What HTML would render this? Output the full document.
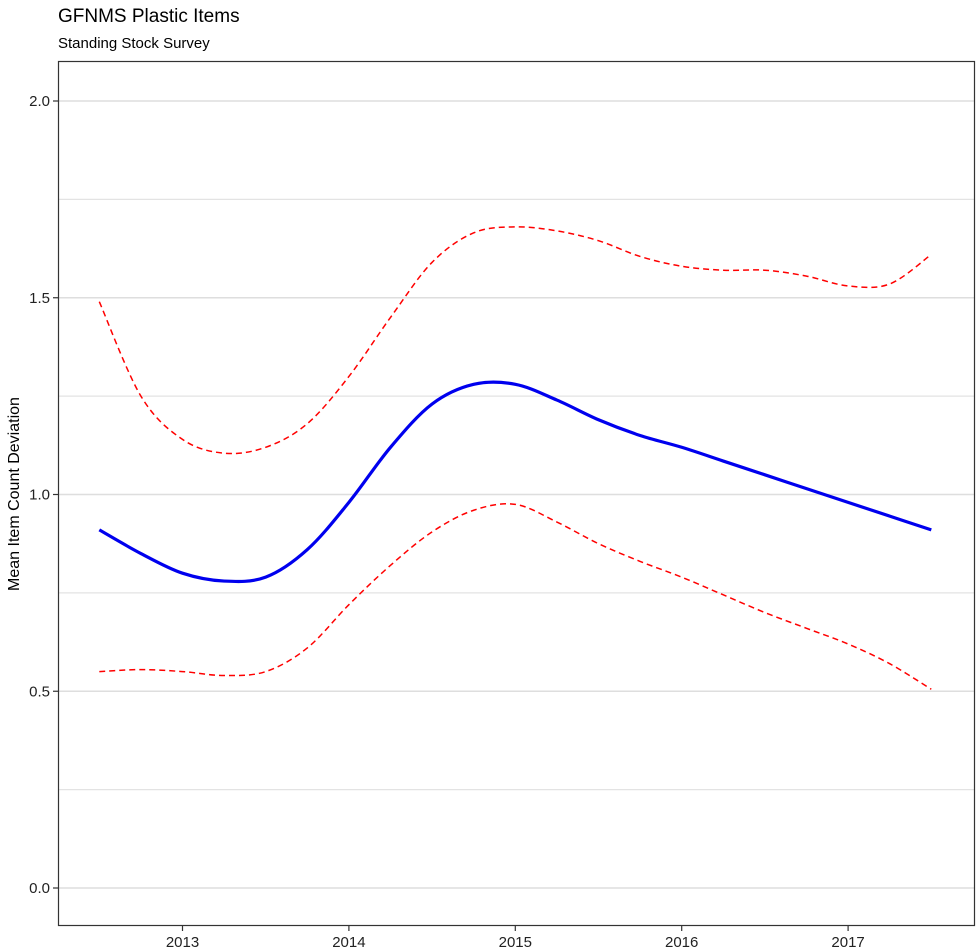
<!DOCTYPE html>
<html><head><meta charset="utf-8"><style>
html,body{margin:0;padding:0;background:#fff;}
svg{display:block;font-family:"Liberation Sans",Arial,sans-serif;}
</style></head><body>
<svg id="chart" width="976" height="951">
<text x="58" y="22" font-size="19" fill="#000">GFNMS Plastic Items</text>
<text x="58" y="48" font-size="15" fill="#000">Standing Stock Survey</text>
<g id="grid"></g>
<g id="series"></g>
<rect x="58.5" y="61.5" width="916" height="864" fill="none" stroke="#333" stroke-width="1.2"/>
<g id="axes"></g>
<text transform="translate(19,494) rotate(-90)" text-anchor="middle" font-size="16" fill="#000">Mean Item Count Deviation</text>
</svg>
<script>
const years=[2012.5,2012.75,2013,2013.25,2013.5,2013.75,2014,2014.25,2014.5,2014.75,2015,2015.25,2015.5,2015.75,2016,2016.25,2016.5,2016.75,2017,2017.25,2017.5];
const meanVals=[0.91,0.85,0.80,0.78,0.79,0.86,0.98,1.12,1.23,1.28,1.28,1.24,1.19,1.15,1.12,1.085,1.05,1.015,0.98,0.945,0.91];
const upperVals=[1.49,1.25,1.14,1.105,1.12,1.18,1.30,1.45,1.59,1.665,1.68,1.67,1.645,1.605,1.58,1.57,1.57,1.555,1.53,1.535,1.61];
const lowerVals=[0.55,0.555,0.55,0.54,0.55,0.61,0.72,0.82,0.905,0.96,0.975,0.93,0.875,0.83,0.79,0.745,0.70,0.66,0.62,0.57,0.505];
const xTicks=[2013,2014,2015,2016,2017];
const yTicks=[0.0,0.5,1.0,1.5,2.0];
const yMinor=[0.25,0.75,1.25,1.75];
const NS="http://www.w3.org/2000/svg";
const X=v=>182.5+(v-2013)*166.4;
const Y=v=>888-v*393.5;
function mk(tag,attrs,parent){const e=document.createElementNS(NS,tag);for(const k in attrs)e.setAttribute(k,attrs[k]);parent.appendChild(e);return e;}
const grid=document.getElementById('grid'),axes=document.getElementById('axes'),series=document.getElementById('series');
yMinor.forEach(v=>{const l=mk('line',{x1:59,x2:974,y1:Y(v),y2:Y(v),stroke:'#e3e3e3','stroke-width':1.3},grid);

});
yTicks.forEach(v=>{const l=mk('line',{x1:59,x2:974,y1:Y(v),y2:Y(v),stroke:'#dedede','stroke-width':1.6},grid);


const t=mk('line',{x1:53,x2:58,y1:Y(v),y2:Y(v),stroke:'#333','stroke-width':1.2},axes);


const tx=mk('text',{x:50,y:Y(v)+5,'text-anchor':'end','font-size':15,fill:'#222'},axes);tx.textContent=v.toFixed(1);

});
xTicks.forEach(v=>{const t=mk('line',{x1:X(v),x2:X(v),y1:926,y2:931,stroke:'#333','stroke-width':1.2},axes);


const tx=mk('text',{x:X(v),y:947,'text-anchor':'middle','font-size':15,fill:'#222'},axes);tx.textContent=v;

});
function smooth(vals){const p=years.map((y,i)=>[X(y),Y(vals[i])]);let d=`M${p[0][0]},${p[0][1]}`;
for(let i=0;i<p.length-1;i++){const p0=p[Math.max(0,i-1)],p1=p[i],p2=p[i+1],p3=p[Math.min(p.length-1,i+2)];
d+=` C${p1[0]+(p2[0]-p0[0])/6},${p1[1]+(p2[1]-p0[1])/6} ${p2[0]-(p3[0]-p1[0])/6},${p2[1]-(p3[1]-p1[1])/6} ${p2[0]},${p2[1]}`;}return d;}
const up=mk('path',{d:smooth(upperVals),fill:'none',stroke:'#f00','stroke-width':1.5,'stroke-dasharray':'6,4'},series);


const lo=mk('path',{d:smooth(lowerVals),fill:'none',stroke:'#f00','stroke-width':1.5,'stroke-dasharray':'6,4'},series);


const mn=mk('path',{d:smooth(meanVals),fill:'none',stroke:'#0000ee','stroke-width':3.2},series);


</script>
</body></html>
